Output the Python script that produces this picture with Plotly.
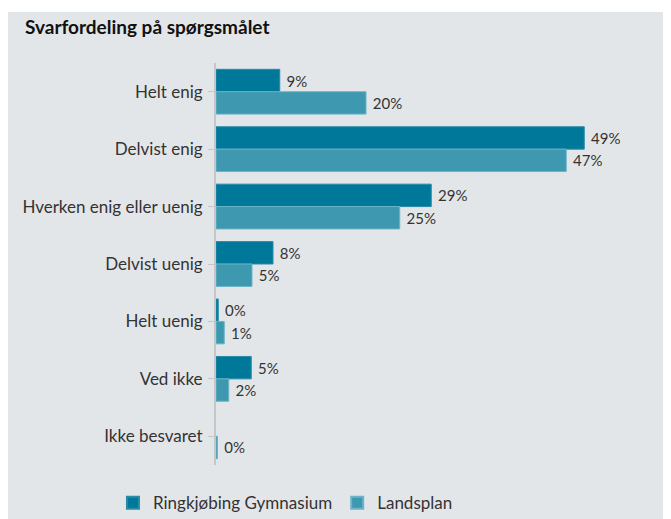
import plotly.graph_objects as go

categories = ["Helt enig", "Delvist enig", "Hverken enig eller uenig",
              "Delvist uenig", "Helt uenig", "Ved ikke", "Ikke besvaret"]
ringkjoebing = [8.5, 49.1, 28.7, 7.6, 0.3, 4.7, None]
landsplan = [20.0, 46.7, 24.5, 4.8, 1.1, 1.7, 0.2]

dark = "#00789a"
light = "#3d98b0"
bg = "#e3e6e9"
txt = "#333333"
fnt = "Lato"

fig = go.Figure()
for name, vals, col, edge in [("Ringkjøbing Gymnasium", ringkjoebing, dark, "#2b8aa8"),
                              ("Landsplan", landsplan, light, "#6cb4c8")]:
    fig.add_trace(go.Bar(
        y=categories, x=vals, name=name, orientation="h",
        marker=dict(color=col, line=dict(color=edge, width=1)),
        texttemplate=" %{x:.0f}%", textposition="outside",
        textfont=dict(size=15, color=txt, family=fnt),
        cliponaxis=False,
    ))

# white strip above the grey panel
fig.add_shape(type="rect", xref="paper", yref="paper",
              x0=-0.5, x1=1.05, y0=1.127, y1=1.2,
              fillcolor="white", line_width=0, layer="below")

fig.update_layout(
    width=663, height=519,
    margin=dict(l=208, r=5, t=55, b=62),
    paper_bgcolor=bg, plot_bgcolor=bg,
    barmode="group", bargap=0.22, bargroupgap=0,
    font=dict(family=fnt, size=17, color=txt),
    title=dict(text="<b>Svarfordeling på spørgsmålet</b>", x=0.0256, xanchor="left",
               y=0.9634, yanchor="middle", font=dict(size=19, color="#111111")),
    xaxis=dict(range=[0, 60], visible=False),
    yaxis=dict(autorange="reversed", showline=True, linecolor="#c4c6c8", linewidth=2,
               ticks="outside", ticklen=6, tickcolor="#c4c6c8", showgrid=False,
               tickfont=dict(size=17, color=txt), ticklabelstandoff=2),
    legend=dict(orientation="h", x=-0.229, xanchor="left", y=-0.095, yanchor="middle",
                bgcolor="rgba(0,0,0,0)", font=dict(size=17, color=txt),
                itemsizing="constant", traceorder="normal"),
)

fig.write_html("out.html")
